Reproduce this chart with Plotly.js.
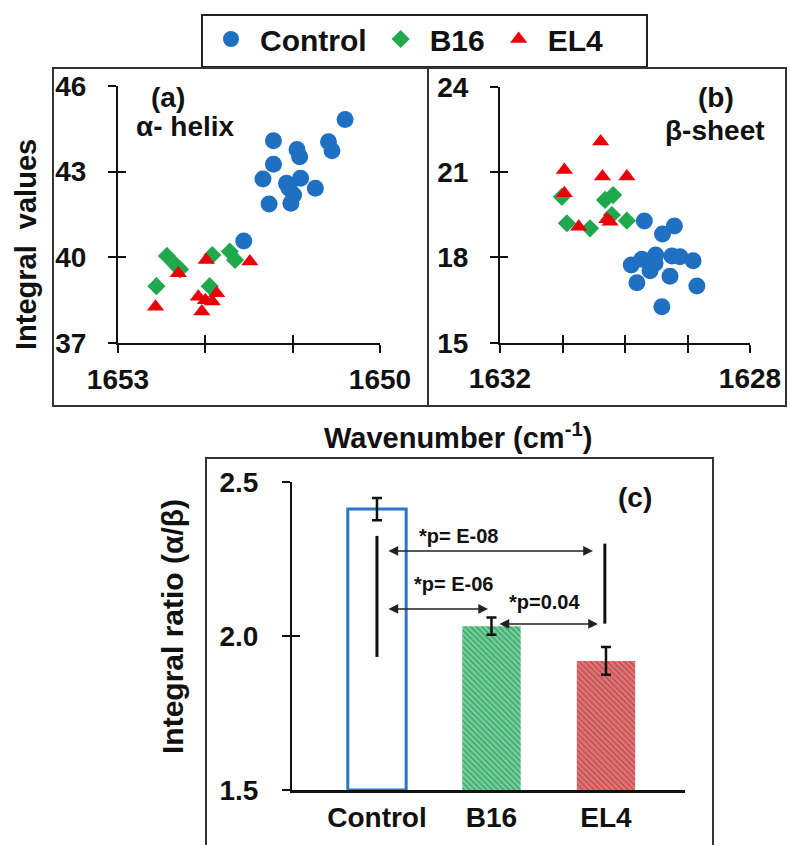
<!DOCTYPE html>
<html>
<head>
<meta charset="utf-8">
<script src="https://cdn.plot.ly/plotly-3.0.1.min.js"></script>
<style>html,body{margin:0;padding:0;background:#fff;}#chart{width:790px;height:845px;}</style>
</head>
<body>
<div id="chart"></div>
<script>
// ---------- Data ----------
const groups = ['Control', 'B16', 'EL4'];

// Panel (a) alpha-helix
const aControlX = [1650.40,1651.22,1650.59,1650.55,1650.95,1650.92,1651.22,1651.34,1651.07,1650.91,1650.74,1650.99,1651.27,1651.02,1651.56,1651.04];
const aControlY = [44.83,44.08,44.05,43.73,43.78,43.52,43.26,42.74,42.59,42.77,42.42,42.18,41.87,41.89,40.57,42.42];
const aB16X = [1652.44,1652.34,1652.29,1652.56,1651.92,1651.72,1651.66,1651.95];
const aB16Y = [40.05,39.73,39.58,38.99,40.08,40.20,39.91,38.99];
const aEL4X = [1652.57,1652.31,1651.99,1651.49,1652.08,1651.87,1651.92,1652.04,1652.00];
const aEL4Y = [38.27,39.44,39.91,39.85,38.62,38.74,38.45,38.10,38.50];

// Panel (b) beta-sheet
const bControlX = [1629.69,1629.21,1629.40,1629.90,1629.73,1629.60,1629.51,1629.25,1629.12,1628.91,1629.81,1629.28,1628.85,1629.41,1629.52];
const bControlY = [19.28,19.10,18.82,17.73,17.93,17.53,18.08,18.05,18.02,17.88,17.11,17.34,16.99,16.26,17.79];
const bB16X = [1631.01,1630.93,1630.56,1630.32,1630.19,1630.21,1629.97];
const bB16Y = [20.13,19.20,19.02,20.02,20.19,19.49,19.29];
const bEL4X = [1630.97,1630.97,1630.39,1630.36,1629.97,1630.74,1630.24,1630.29];
const bEL4Y = [21.07,20.25,22.07,20.84,20.84,19.08,19.25,19.34];

// Panel (c) ratio
const ratioValues = [2.412, 2.032, 1.919];
const ratioErrors = [0.036, 0.028, 0.045];

// Tick labels
const aXTicks = [1653, 1652, 1651, 1650];
const aXTickText = ['1653', ' ', ' ', '1650'];
const aYTicks = [37, 40, 43, 46];
const bXTicks = [1632, 1631, 1630, 1629, 1628];
const bXTickText = ['1632', ' ', ' ', ' ', '1628'];
const bYTicks = [15, 18, 21, 24];
const cYTicks = [1.5, 2.0, 2.5];
const cYTickText = ['1.5', '2.0', '2.5'];

// Significance comparisons
const sigText = ['*p= E-08', '*p= E-06', '*p=0.04'];
const sigFrom = [0.087, 0.087, 1.057];
const sigTo = [1.886, 0.97, 1.93];
const sigLevel = [2.276, 2.088, 2.039];
const sigTextX = [0.716, 0.672, 1.459];
const sigTextY = [2.325, 2.169, 2.110];

// ---------- Styling ----------
const W = 790, H = 845;
const px = v => v / W;
const py = v => 1 - v / H;
const BASE = 1.5;
const FAM = '"Liberation Sans", Arial, Helvetica, sans-serif';
const font = (s) => ({family: FAM, size: s, color: '#111', weight: 700});
const colors = {Control: '#1f6fc2', B16: '#1fa84d', EL4: '#e8000b'};
const symbols = {Control: 'circle', B16: 'diamond', EL4: 'triangle-up'};
const sizes = {Control: 17, B16: 14, EL4: 15};

const traces = [];
const aX = {Control: aControlX, B16: aB16X, EL4: aEL4X};
const aY = {Control: aControlY, B16: aB16Y, EL4: aEL4Y};
const bX = {Control: bControlX, B16: bB16X, EL4: bEL4X};
const bY = {Control: bControlY, B16: bB16Y, EL4: bEL4Y};
groups.forEach(g => {
  traces.push({type: 'scatter', mode: 'markers', name: g, legendgroup: g, x: aX[g], y: aY[g],
    xaxis: 'x', yaxis: 'y', marker: {symbol: symbols[g], size: sizes[g], color: colors[g], line: {width: 0}}, hoverinfo: 'x+y'});
});
groups.forEach(g => {
  traces.push({type: 'scatter', mode: 'markers', name: g, legendgroup: g, showlegend: false, x: bX[g], y: bY[g],
    xaxis: 'x2', yaxis: 'y2', marker: {symbol: symbols[g], size: sizes[g], color: colors[g], line: {width: 0}}, hoverinfo: 'x+y'});
});
traces.push({type: 'bar', x: groups, y: ratioValues.map(v => v - BASE), base: BASE, xaxis: 'x3', yaxis: 'y3', showlegend: false, width: 0.51,
  marker: {color: ['#ffffff', '#66d896', '#f26f6f'],
    line: {color: ['#2e75c6', '#66d896', '#f26f6f'], width: [3, 0, 0]},
    pattern: {shape: ['', '\\', '\\'], fgcolor: ['#ffffff', '#3aa867', '#d84444'], bgcolor: ['#ffffff', '#6fdc9c', '#f47a7a'], size: 4, solidity: 0.35, fillmode: 'overlay'}},
  error_y: {type: 'data', array: ratioErrors, visible: true, color: '#111', thickness: 2.5, width: 5}});
// empty traces so the overlay tick axes get drawn
[['x4','y4'],['x5','y5'],['x3','y6']].forEach(p => traces.push({type:'scatter', x: [], y: [], xaxis: p[0], yaxis: p[1], showlegend: false, hoverinfo: 'skip'}));

const baseAx = {showgrid: false, zeroline: false, showline: true, linecolor: '#111', linewidth: 2,
  ticks: 'outside', ticklen: 8, tickwidth: 2, tickcolor: '#111', tickfont: font(28), fixedrange: true};
const inAx = {showgrid: false, zeroline: false, showline: false, ticks: 'inside', ticklen: 8, tickwidth: 2, tickcolor: '#111', showticklabels: false, fixedrange: true};

const yDomTop = [py(343), py(86)];
const yDomTopB = [py(342.7), py(86.7)];
const paperNote = (x, y, text, size, angle) => ({xref: 'paper', yref: 'paper', x: px(x), y: py(y), text: text, showarrow: false,
  xanchor: 'center', yanchor: 'middle', textangle: angle || 0, font: font(size)});
const layout = {
  width: W, height: H, margin: {l: 0, r: 0, t: 0, b: 0}, paper_bgcolor: '#fff', plot_bgcolor: 'rgba(0,0,0,0)',
  showlegend: true,
  legend: {orientation: 'h', x: px(202), y: py(13), xanchor: 'left', yanchor: 'top', borderwidth: 0,
    font: font(30), bgcolor: 'rgba(0,0,0,0)', itemsizing: 'trace', itemwidth: 48, tracegroupgap: 0},
  xaxis: Object.assign({}, baseAx, {domain: [px(118), px(380)], range: [1653, 1650], anchor: 'y', tickvals: aXTicks, ticktext: aXTickText, ticklabelstandoff: 2}),
  yaxis: Object.assign({}, baseAx, {domain: yDomTop, range: [37, 46], anchor: 'x', tickvals: aYTicks, ticklabelstandoff: 16}),
  xaxis2: Object.assign({}, baseAx, {domain: [px(500), px(750)], range: [1632, 1628], anchor: 'y2', tickvals: bXTicks, ticktext: bXTickText, ticklabelstandoff: 2}),
  yaxis2: Object.assign({}, baseAx, {domain: yDomTopB, range: [15, 24], anchor: 'x2', tickvals: bYTicks, ticklabelstandoff: 16}),
  xaxis3: Object.assign({}, baseAx, {domain: [px(292), px(685)], range: [-0.742, 2.69], anchor: 'y3', type: 'category', ticks: '', linewidth: 3, ticklabelstandoff: 0}),
  yaxis3: Object.assign({}, baseAx, {domain: [py(790), py(482)], range: [1.5, 2.5], anchor: 'x3', tickvals: cYTicks, ticktext: cYTickText, ticklabelstandoff: 18}),
  xaxis4: Object.assign({}, inAx, {overlaying: 'x', anchor: 'y', range: [1653, 1650], tickvals: aXTicks}),
  yaxis4: Object.assign({}, inAx, {overlaying: 'y', anchor: 'x', range: [37, 46], tickvals: aYTicks}),
  xaxis5: Object.assign({}, inAx, {overlaying: 'x2', anchor: 'y2', range: [1632, 1628], tickvals: bXTicks}),
  yaxis5: Object.assign({}, inAx, {overlaying: 'y2', anchor: 'x2', range: [15, 24], tickvals: bYTicks}),
  yaxis6: Object.assign({}, inAx, {overlaying: 'y3', anchor: 'x3', range: [1.5, 2.5], tickvals: cYTicks}),
  shapes: [
    {type: 'rect', xref: 'paper', yref: 'paper', x0: px(202), x1: px(647), y0: py(67), y1: py(15), line: {color: '#222', width: 2}},
    {type: 'rect', xref: 'paper', yref: 'paper', x0: px(53), x1: px(428), y0: py(406), y1: py(68), line: {color: '#333', width: 2}},
    {type: 'rect', xref: 'paper', yref: 'paper', x0: px(428), x1: px(786), y0: py(406), y1: py(68), line: {color: '#333', width: 2}},
    {type: 'rect', xref: 'paper', yref: 'paper', x0: px(206), x1: px(713), y0: py(852), y1: py(458), line: {color: '#333', width: 2}},
    {type: 'line', xref: 'x3', yref: 'y3', x0: 0, x1: 0, y0: 1.932, y1: 2.325, line: {color: '#111', width: 3}},
    {type: 'line', xref: 'x3', yref: 'y3', x0: 1.99, x1: 1.99, y0: 2.04, y1: 2.30, line: {color: '#111', width: 3}}
  ],
  annotations: [
    paperNote(168, 97, '(a)', 28),
    paperNote(185, 126, 'α- helix', 28),
    paperNote(716, 97, '(b)', 28),
    paperNote(715, 131, 'β-sheet', 28),
    paperNote(635, 497, '(c)', 28),
    paperNote(26, 245, 'Integral  values', 29, -90),
    paperNote(458, 436, 'Wavenumber (cm<sup>-1</sup>)', 29),
    paperNote(172, 627, 'Integral ratio (α/β)', 30, -90)
  ]
};
sigText.forEach((t, i) => {
  layout.annotations.push({xref: 'x3', yref: 'y3', axref: 'x3', ayref: 'y3', x: sigTo[i], y: sigLevel[i], ax: sigFrom[i], ay: sigLevel[i],
    text: '', showarrow: true, arrowside: 'end+start', arrowhead: 2, startarrowhead: 2, arrowsize: 1.3, startarrowsize: 1.3, arrowwidth: 1.5, arrowcolor: '#222'});
  layout.annotations.push({xref: 'x3', yref: 'y3', x: sigTextX[i], y: sigTextY[i], xanchor: 'center', yanchor: 'middle', text: t, showarrow: false, font: font(20)});
});

Plotly.newPlot('chart', traces, layout, {displayModeBar: false, staticPlot: true});
</script>
</body>
</html>
